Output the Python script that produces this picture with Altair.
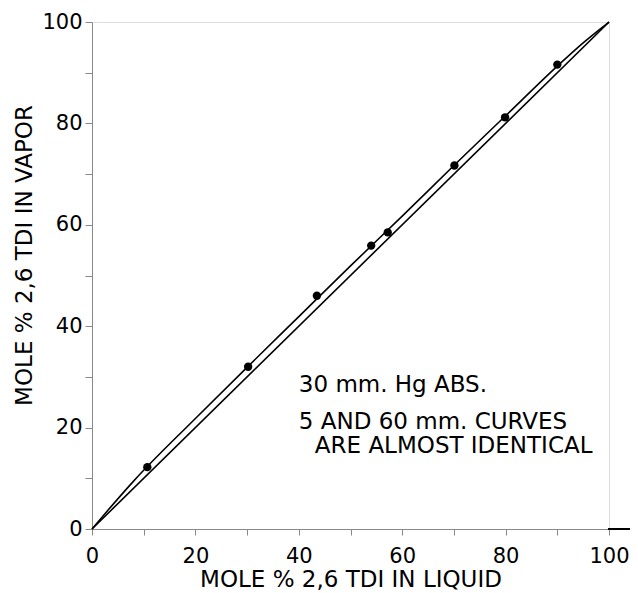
import altair as alt
import pandas as pd

# Data points (mole % in liquid, mole % in vapor)
pt_x = [10.7, 30.2, 43.5, 54.0, 57.2, 70.1, 79.9, 90.0]
pt_y = [12.2, 32.0, 46.0, 55.9, 58.5, 71.7, 81.2, 91.6]

# Smooth equilibrium curve
curve_x = [0, 3, 8, 20, 30, 40, 50, 60, 70, 80, 90, 95, 100]
curve_y = [0, 3.6, 9.4, 21.8, 31.9, 41.9, 51.9, 61.7, 71.7, 81.5, 91.3, 95.9, 100]

# 45-degree reference line
diag_x = [0, 100]
diag_y = [0, 100]

notes = ["30 mm. Hg ABS.", "5 AND 60 mm. CURVES", "ARE ALMOST IDENTICAL"]
note_x = [40.0, 40.0, 43.1]
note_y = [28.4, 21.2, 16.3]

FONT = "DejaVu Sans"

pts = pd.DataFrame({"x": pt_x, "y": pt_y})
curve = pd.DataFrame({"x": curve_x, "y": curve_y})
diag = pd.DataFrame({"x": diag_x, "y": diag_y})
txt = pd.DataFrame({"t": notes, "x": note_x, "y": note_y})

xscale = alt.Scale(domain=[0, 100], nice=False, zero=False)
yscale = alt.Scale(domain=[0, 100], nice=False, zero=False)
ticks = list(range(0, 101, 10))
lab = "datum.value % 20 == 0 ? datum.label : ''"

xax = alt.Axis(values=ticks, labelExpr=lab, grid=False, tickSize=6,
               labelPadding=10, title="MOLE % 2,6 TDI IN LIQUID",
               titleFontSize=23, titlePadding=2, labelFontSize=21,
               titleFontWeight="normal", titleFont=FONT, labelFont=FONT,
               labelFlush=False)
yax = alt.Axis(values=ticks, labelExpr=lab, grid=False, tickSize=7,
               labelPadding=3, title="MOLE % 2,6 TDI IN VAPOR",
               titleFontSize=23, titlePadding=5, labelFontSize=21,
               titleFontWeight="normal", titleFont=FONT, labelFont=FONT,
               titleY=233, labelFlush=False)

base_x = alt.X("x:Q", scale=xscale, axis=xax)
base_y = alt.Y("y:Q", scale=yscale, axis=yax)

diag_line = alt.Chart(diag).mark_line(color="black", strokeWidth=1.6).encode(
    x=base_x, y=base_y)
curve_line = alt.Chart(curve).mark_line(color="black", strokeWidth=1.6,
                                        interpolate="monotone").encode(
    x="x:Q", y="y:Q")
points = alt.Chart(pts).mark_circle(color="black", opacity=1, size=70).encode(
    x="x:Q", y="y:Q")
labels = alt.Chart(txt).mark_text(align="left", baseline="middle",
                                  font=FONT, fontSize=23, color="black").encode(
    x="x:Q", y="y:Q", text="t:N")

ext = pd.DataFrame({"x": [99.8], "x2": [106], "y": [0]})
axis_ext = alt.Chart(ext).mark_rule(color="black", strokeWidth=2, clip=False).encode(
    x="x:Q", x2="x2:Q", y="y:Q")

chart = alt.layer(diag_line, curve_line, points, labels, axis_ext).properties(
    width=517, height=507,
    autosize=alt.AutoSizeParams(type="none"),
    padding={"left": 84, "top": 14, "right": 21, "bottom": 64},
).configure_view(stroke=None).configure_axis(
    domainColor="black", domainWidth=2, tickColor="black", tickWidth=1.5,
    labelColor="black", titleColor="black",
).configure(background="white")

chart.save("out.html", embed_options={"renderer": "svg", "actions": False})
